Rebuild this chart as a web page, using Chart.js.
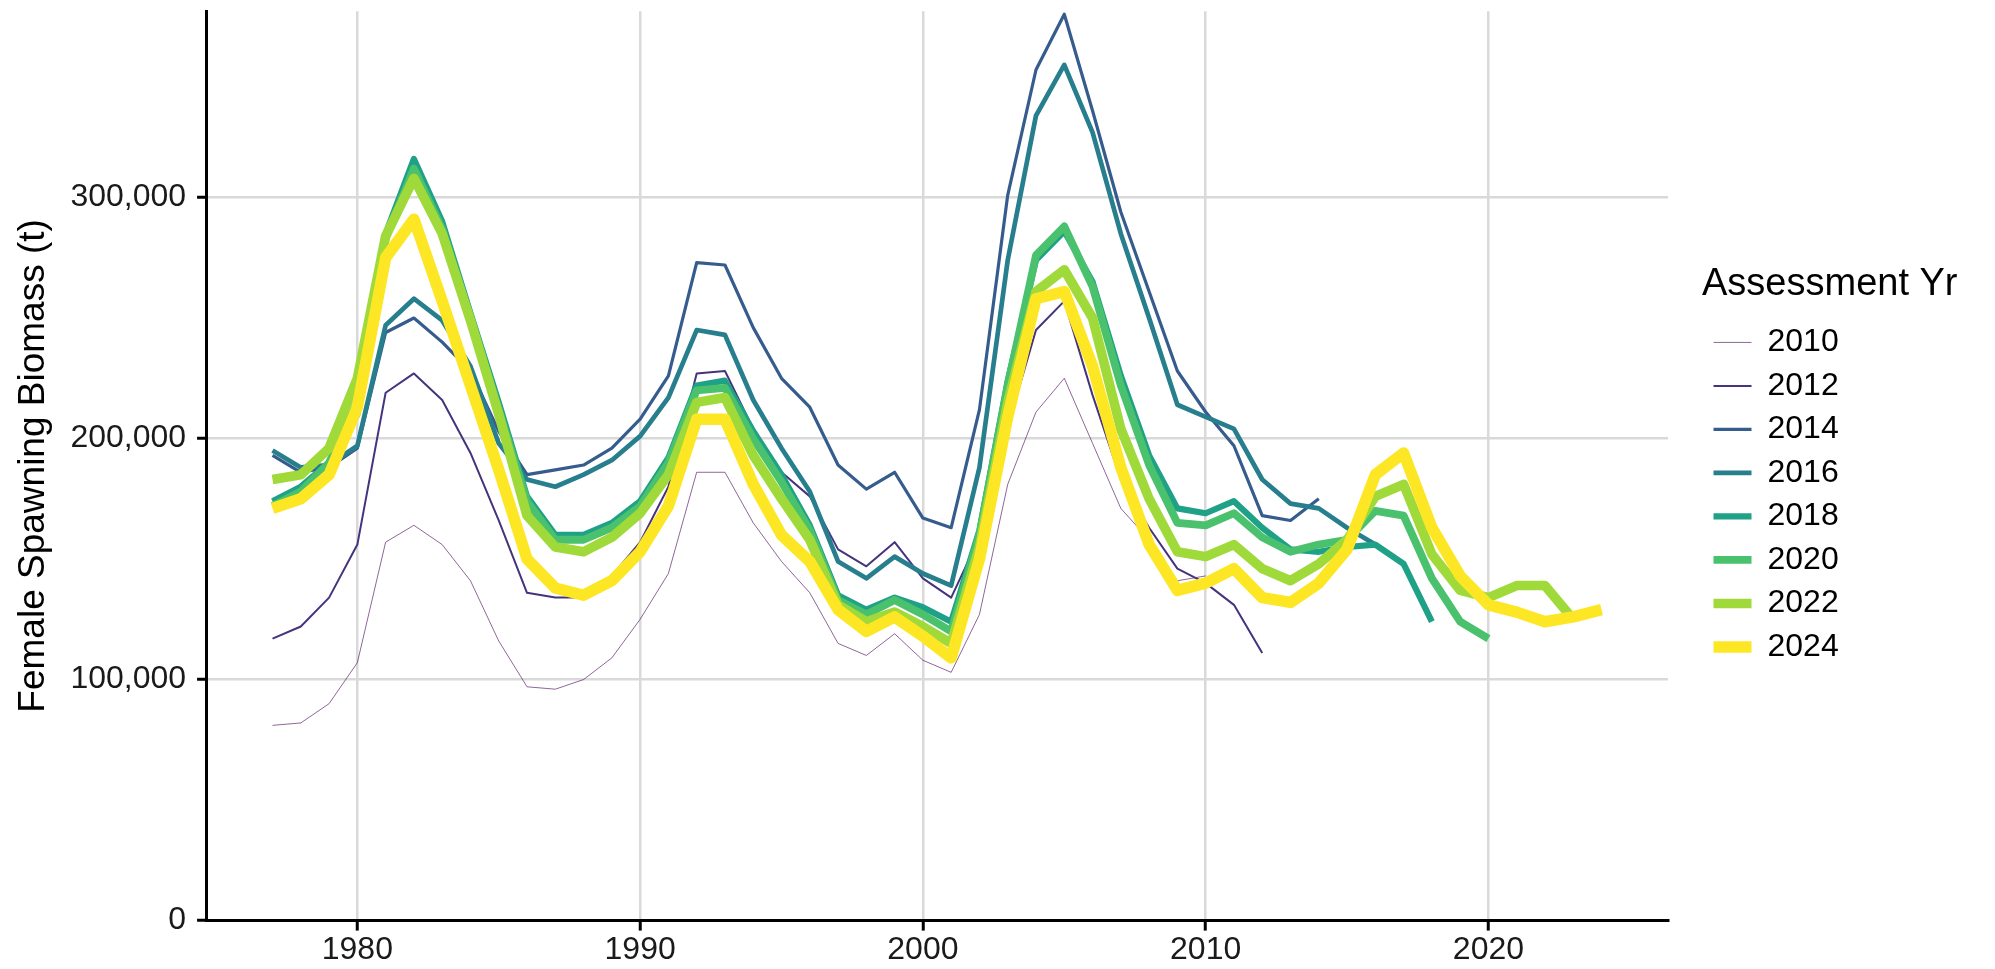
<!DOCTYPE html>
<html>
<head>
<meta charset="utf-8">
<title>Female Spawning Biomass by Assessment Year</title>
<script src="https://cdn.jsdelivr.net/npm/chart.js@4.4.1/dist/chart.umd.min.js"></script>
<style>
  body { margin: 0; background: #ffffff; }
  canvas { display: block; }
</style>
</head>
<body>
<canvas id="graphic" width="1995" height="969"></canvas>
<script>
// model years on the x axis
const years = [1977, 1978, 1979, 1980, 1981, 1982, 1983, 1984, 1985, 1986,
  1987, 1988, 1989, 1990, 1991, 1992, 1993, 1994, 1995, 1996,
  1997, 1998, 1999, 2000, 2001, 2002, 2003, 2004, 2005, 2006,
  2007, 2008, 2009, 2010, 2011, 2012, 2013, 2014, 2015, 2016,
  2017, 2018, 2019, 2020, 2021, 2022, 2023, 2024];

const assessments = ['2010', '2012', '2014', '2016', '2018', '2020', '2022', '2024'];

// spawning biomass (t), each series starts in 1977
const ssb2010 = [81000, 82000, 90000, 107000, 157000, 164000, 156000, 141000, 116000, 97000,
  96000, 100000, 109000, 125000, 144000, 186000, 186000, 165000, 149000, 136000,
  115000, 110000, 119000, 108000, 103000, 127000, 181000, 211000, 225000, 198000,
  171000, 158000, 141000, 143000];
const ssb2012 = [117000, 122000, 134000, 156000, 219000, 227000, 216000, 194000, 166000, 136000,
  134000, 134000, 143000, 157000, 180000, 227000, 228000, 204000, 186000, 176000,
  154000, 147000, 157000, 142000, 134000, 159000, 205000, 245000, 257000, 218000,
  183000, 163000, 146000, 140000, 131000, 111000];
const ssb2014 = [193000, 186000, 188000, 196000, 244000, 250000, 240000, 228000, 203000, 185000,
  187000, 189000, 196000, 208000, 226000, 273000, 272000, 246000, 225000, 213000,
  189000, 179000, 186000, 167000, 163000, 212000, 301000, 353000, 376000, 336000,
  294000, 261000, 228000, 211000, 197000, 168000, 166000, 175000];
const ssb2016 = [195000, 188000, 189000, 197000, 247000, 258000, 249000, 230000, 198000, 183000,
  180000, 185000, 191000, 201000, 217000, 245000, 243000, 216000, 196000, 178000,
  149000, 142000, 151000, 144000, 139000, 188000, 274000, 334000, 355000, 327000,
  285000, 250000, 214000, 209000, 204000, 183000, 173000, 171000, 163000, 156000];
const ssb2018 = [174000, 180000, 190000, 210000, 285000, 316000, 290000, 252000, 215000, 176000,
  160000, 160000, 165000, 174000, 192000, 222000, 224000, 203000, 185000, 164000,
  135000, 129000, 134000, 130000, 124000, 162000, 224000, 274000, 286000, 265000,
  226000, 193000, 171000, 169000, 174000, 163000, 154000, 153000, 155000, 156000,
  148000, 124000];
const ssb2020 = [172000, 178000, 190000, 215000, 283000, 312000, 287000, 250000, 212000, 174000,
  158000, 158000, 163000, 172000, 190000, 220000, 221000, 200000, 182000, 162000,
  133000, 127000, 133000, 127000, 120000, 160000, 222000, 276000, 288000, 263000,
  222000, 189000, 165000, 164000, 169000, 159000, 153000, 156000, 158000, 170000,
  168000, 142000, 124000, 117000];
const ssb2022 = [183000, 185000, 196000, 225000, 284000, 308000, 285000, 249000, 210000, 168000,
  155000, 153000, 159000, 169000, 185000, 215000, 217000, 193000, 175000, 158000,
  131000, 124000, 128000, 122000, 115000, 155000, 215000, 261000, 270000, 250000,
  204000, 175000, 153000, 151000, 156000, 146000, 141000, 148000, 158000, 176000,
  181000, 152000, 137000, 134000, 139000, 139000, 125000];
const ssb2024 = [171000, 175000, 185000, 213000, 275000, 291000, 257000, 222000, 187000, 150000,
  138000, 135000, 141000, 153000, 172000, 208000, 208000, 181000, 160000, 149000,
  129000, 120000, 126000, 118000, 109000, 150000, 209000, 258000, 261000, 230000,
  188000, 156000, 137000, 140000, 146000, 134000, 132000, 140000, 154000, 185000,
  194000, 163000, 143000, 131000, 128000, 124000, 126000, 129000];

const series = [ssb2010, ssb2012, ssb2014, ssb2016, ssb2018, ssb2020, ssb2022, ssb2024];

const xTicks = [1980, 1990, 2000, 2010, 2020];
const yTicks = [0, 100000, 200000, 300000];

// viridis, thicker lines for newer assessments
const lineColors = ['rgba(68,1,84,0.6)', '#46337E', '#365C8D', '#277F8E', '#1FA187', '#4AC16D', '#9FDA3A', '#FDE725'];
const lineWidths = [1, 2, 3.2, 4.7, 6.2, 7.8, 9.6, 11.5];

const fontFamily = "'Liberation Sans', Arial, Helvetica, sans-serif";
const yTop = 377300;
const topLine = 376800;

const datasets = assessments.map((label, i) => ({
  label: label,
  data: series[i].map((v, j) => ({x: years[j], y: v})),
  borderColor: lineColors[i],
  backgroundColor: lineColors[i],
  borderWidth: lineWidths[i],
  borderJoinStyle: 'round',
  borderCapStyle: 'butt',
  pointRadius: 0,
  tension: 0,
  fill: false,
  order: assessments.length - i  // newest on top
}));

// legend box is sized from the items only, so widen it to fit the title
const legendWidth = {
  id: 'legendWidth',
  beforeLayout(chart, args, opts) {
    const legend = chart.legend;
    if (legend && !legend.$widened) {
      const fit = legend.fit;
      legend.fit = function () {
        fit.call(this);
        this.width = opts.width;
      };
      legend.$widened = true;
    }
  }
};

const config = {
  type: 'line',
  data: { datasets: datasets },
  plugins: [legendWidth],
  options: {
    responsive: false,
    animation: false,
    events: [],
    layout: { padding: { top: 8, right: 0, bottom: 0, left: 0 } },
    scales: {
      x: {
        type: 'linear',
        min: 1974.65,
        max: 2026.35,
        afterBuildTicks: axis => { axis.ticks = xTicks.map(v => ({value: v})); },
        ticks: {
          callback: v => String(v),
          font: { family: fontFamily, size: 32 },
          color: '#1a1a1a',
          padding: 0,
          maxRotation: 0
        },
        grid: {
          color: '#d9d9d9',
          lineWidth: 2.5,
          drawTicks: true,
          tickLength: 10,
          tickWidth: 3,
          tickColor: '#000000'
        },
        border: { color: '#000000', width: 3 }
      },
      y: {
        type: 'linear',
        min: 0,
        max: yTop,
        afterBuildTicks: axis => {
          axis.ticks = yTicks.concat([topLine]).map(v => ({value: v}));
        },
        ticks: {
          callback: v => (yTicks.includes(v) ? v.toLocaleString('en-US') : null),
          font: { family: fontFamily, size: 32, lineHeight: 0.01 },
          color: '#1a1a1a',
          padding: 11
        },
        grid: {
          color: '#d9d9d9',
          lineWidth: 2.5,
          drawTicks: true,
          tickLength: 9,
          tickWidth: 3,
          tickColor: ctx => (ctx.tick && ctx.tick.value === topLine ? 'rgba(0,0,0,0)' : '#000000')
        },
        border: { color: '#000000', width: 3 },
        title: {
          display: true,
          text: 'Female Spawning Biomass (t)',
          font: { family: fontFamily, size: 37 },
          color: '#000000',
          padding: { top: 12, bottom: 3 }
        }
      },
      gap: {
        // empty space between panel and legend
        type: 'linear',
        position: 'right',
        display: true,
        grid: { display: false },
        ticks: { display: false },
        border: { display: false },
        afterFit: scale => { scale.width = 34; }
      }
    },
    plugins: {
      legendWidth: { width: 293 },
      legend: {
        position: 'right',
        fullSize: false,
        align: 'center',
        title: {
          display: true,
          text: 'Assessment Yr',
          position: 'start',
          color: '#000000',
          font: { family: fontFamily, size: 38 },
          padding: { top: 8, bottom: 4 }
        },
        labels: {
          usePointStyle: true,
          pointStyle: 'line',
          pointStyleWidth: 38,
          padding: 11.5,
          color: '#000000',
          font: { family: fontFamily, size: 32 },
          sort: (a, b) => a.datasetIndex - b.datasetIndex
        }
      },
      tooltip: { enabled: false }
    }
  }
};

const ssbChart = new Chart(document.querySelector('#graphic'), config);
</script>
</body>
</html>
